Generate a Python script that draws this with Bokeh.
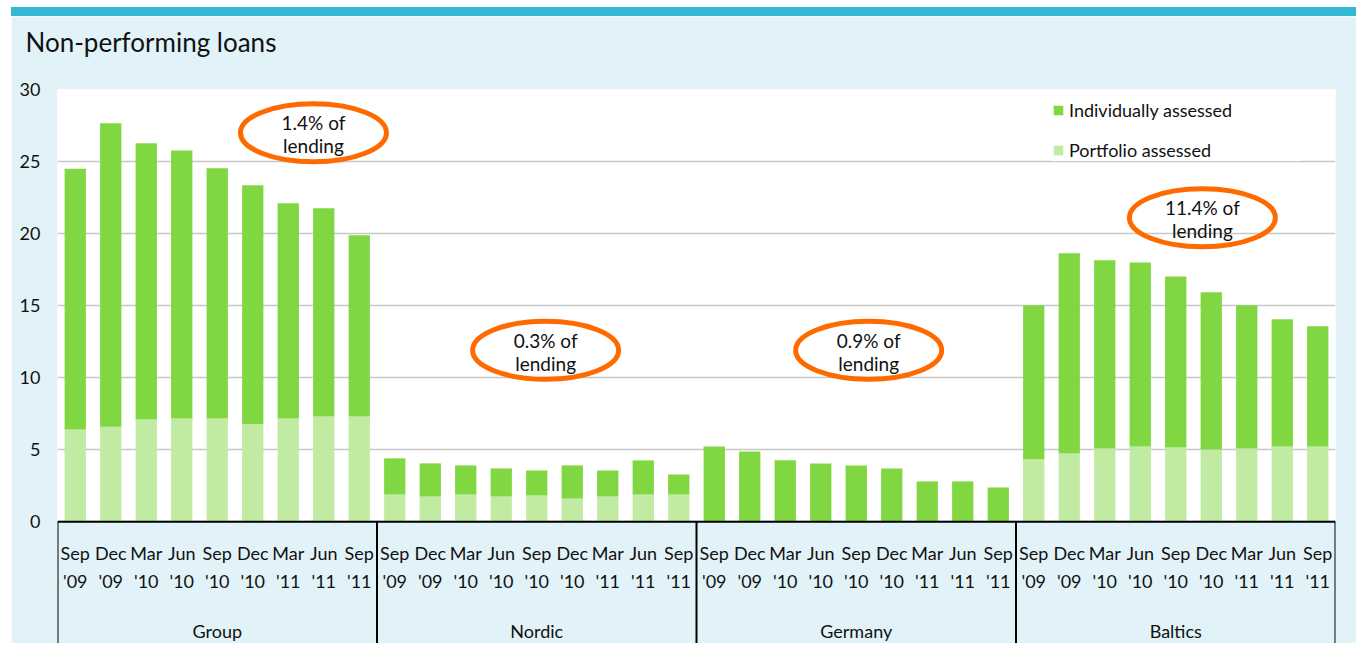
from bokeh.plotting import figure
from bokeh.layouts import column
from bokeh.models import (FactorRange, Range1d, FixedTicker, Legend, LegendItem,
                          ColumnDataSource, Div, Title)
from bokeh.core.properties import value
from bokeh.embed import file_html
from bokeh.resources import INLINE

# ---------------- data ----------------
groups = ["Group", "Nordic", "Germany", "Baltics"]
months = ["Sep", "Dec", "Mar", "Jun", "Sep", "Dec", "Mar", "Jun", "Sep"]
years = ["'09", "'09", "'10", "'10", "'10", "'10", "'11", "'11", "'11"]

portfolio_group = [6.4, 6.6, 7.1, 7.17, 7.17, 6.78, 7.17, 7.31, 7.31]
portfolio_nordic = [1.89, 1.75, 1.89, 1.75, 1.82, 1.61, 1.75, 1.89, 1.89]
portfolio_germany = [0, 0, 0, 0, 0, 0, 0, 0, 0]
portfolio_baltics = [4.33, 4.74, 5.09, 5.23, 5.16, 5.02, 5.09, 5.23, 5.23]

individual_group = [18.1, 21.05, 19.17, 18.6, 17.37, 16.57, 14.93, 14.45, 12.57]
individual_nordic = [2.51, 2.3, 2.02, 1.95, 1.74, 2.3, 1.81, 2.37, 1.39]
individual_germany = [5.23, 4.88, 4.26, 4.05, 3.91, 3.7, 2.8, 2.8, 2.38]
individual_baltics = [10.69, 13.89, 13.06, 12.77, 11.87, 10.9, 9.93, 8.82, 8.33]

series_names = ["Individually assessed", "Portfolio assessed"]
y_ticks = [0, 5, 10, 15, 20, 25, 30]
title_text = "Non-performing loans"

note_line1 = ["1.4% of", "0.3% of", "0.9% of", "11.4% of"]
note_line2 = ["lending", "lending", "lending", "lending"]

# ---------------- styling / annotation placement ----------------
DARK = "#81d742"
LIGHT = "#c1eba3"
BG = "#e1f3f8"
TEAL = "#33b8d4"
ORANGE = "#ff6a00"
FONT = "Lato"

note_x = [7.21, 13.75, 22.85, 32.25]   # category-axis positions
note_y = [27.0, 11.9, 11.9, 21.1]

portfolio = portfolio_group + portfolio_nordic + portfolio_germany + portfolio_baltics
individual = individual_group + individual_nordic + individual_germany + individual_baltics
factors = [(g, f"{m} {y}") for g in groups for m, y in zip(months, years)]
n = len(factors)

src = ColumnDataSource(dict(x=factors, portfolio=portfolio, individual=individual,
                            month=months * len(groups), year=years * len(groups)))

p = figure(x_range=FactorRange(factors=factors, group_padding=0, factor_padding=0,
                               subgroup_padding=0, range_padding=0),
           y_range=Range1d(-8.45, 30),
           width=1345, height=627, output_backend="svg", toolbar_location=None,
           x_axis_location=None,
           min_border_left=46, min_border_right=21, min_border_top=0, min_border_bottom=0,
           background_fill_color="white", border_fill_color=BG, outline_line_color=None)
p.margin = (0, 0, 0, 11)

# axis area (below zero) in light blue
p.quad(left=0, right=n, bottom=p.y_range.start, top=0, fill_color=BG, line_color=None)

rs = p.vbar_stack(["portfolio", "individual"], x="x", width=0.6, color=[LIGHT, DARK],
                  line_color=None, source=src)

# category axis frame lines
bounds = [len(months) * i for i in range(len(groups) + 1)]
p.segment(x0=bounds, y0=[p.y_range.start] * len(bounds), x1=bounds, y1=[0] * len(bounds),
          line_color="black", line_width=2)
p.segment(x0=[0], y0=[0], x1=[n], y1=[0], line_color="black", line_width=2)

p.text(x="x", y=0, text="month", source=src, y_offset=31, text_align="center",
       text_baseline="middle", text_font=value(FONT), text_font_size="18px", text_color="#111111")
p.text(x="x", y=0, text="year", source=src, y_offset=59, text_align="center",
       text_baseline="middle", text_font=value(FONT), text_font_size="18px", text_color="#111111")
p.text(x=groups, y=[0] * len(groups), text=groups, y_offset=109, text_align="center",
       text_baseline="middle", text_font=value(FONT), text_font_size="18px", text_color="#111111")

# orange ellipses with notes
p.ellipse(x=note_x, y=note_y, width=146, height=58, width_units="screen", height_units="screen",
          fill_color=None, line_color=ORANGE, line_width=5)
p.text(x=note_x, y=note_y, text=note_line1, y_offset=-10, text_align="center",
       text_baseline="middle", text_font=value(FONT), text_font_size="19px", text_color="#111111")
p.text(x=note_x, y=note_y, text=note_line2, y_offset=13, text_align="center",
       text_baseline="middle", text_font=value(FONT), text_font_size="19px", text_color="#111111")

# y axis
p.yaxis.ticker = FixedTicker(ticks=y_ticks)
p.yaxis.axis_line_color = None
p.yaxis.major_tick_line_color = None
p.yaxis.minor_tick_line_color = None
p.yaxis.major_label_text_font = FONT
p.yaxis.major_label_text_font_size = "18px"
p.yaxis.major_label_text_color = "#111111"
p.yaxis.major_label_standoff = 11
p.ygrid.bounds = (0, 30)
p.ygrid.grid_line_color = "#c8c8c8"
p.ygrid.grid_line_width = 1.5
p.xgrid.visible = False

# legend
legend = Legend(items=[LegendItem(label=series_names[0], renderers=[rs[1]]),
                       LegendItem(label=series_names[1], renderers=[rs[0]])],
                location=(995, 482), border_line_color=None, background_fill_color="white",
                background_fill_alpha=1, label_text_font=FONT, label_text_font_size="18px",
                label_text_color="#111111", glyph_width=12, glyph_height=12, spacing=18,
                padding=8, margin=0, label_standoff=5, label_width=232)
p.add_layout(legend)

# spacing between title and plot area
p.add_layout(Title(text=" ", text_font_size="10px", standoff=11), "above")

# title
p.title.text = title_text
p.title.text_font = FONT
p.title.text_font_size = "26px"
p.title.text_font_style = "normal"
p.title.text_color = "#111111"
p.title.align = "left"
p.title.vertical_align = "bottom"
p.title.offset = -32
p.title.standoff = 15

# teal band at the top of the panel
band = Div(text="", width=1345, height=9, margin=(7, 0, 0, 11),
           styles={"background-color": TEAL})

layout = column(band, p, spacing=0)
open("out.html", "w").write(file_html(layout, INLINE))
